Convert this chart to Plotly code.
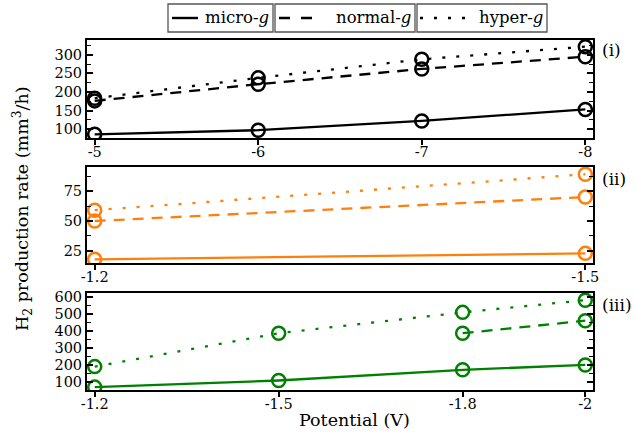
import plotly.graph_objects as go

# Panel (i)
pot_i = [-5, -6, -7, -8]
micro_i = [86, 97, 122, 153]
normal_i = [176, 221, 262, 295]
hyper_i = [183, 238, 288, 322]

# Panel (ii)
pot_ii = [-1.2, -1.5]
micro_ii = [18, 23]
normal_ii = [50, 70]
hyper_ii = [59, 89]

# Panel (iii)
pot_iii = [-1.2, -1.5, -1.8, -2.0]
micro_iii = [67, 106, 169, 198]
normal_iii = [None, None, 385, 459]
hyper_iii = [188, 385, 508, 580]

series_names = ["micro-g", "normal-g", "hyper-g"]
dashes = ["solid", "11px,8px", "3px,11px"]
legend_dashes = ["solid", "11px,11px", "3px,11px"]
colors = ["#000000", "#ff7f0e", "#008000"]
panel_labels = ["(i)", "(ii)", "(iii)"]

FONT = "DejaVu Serif, Liberation Serif, serif"

panels = [
    (pot_i, [micro_i, normal_i, hyper_i]),
    (pot_ii, [micro_ii, normal_ii, hyper_ii]),
    (pot_iii, [micro_iii, normal_iii, hyper_iii]),
]

fig = go.Figure()
for p, (xs, ys_list) in enumerate(panels):
    ax = "" if p == 0 else str(p + 1)
    for s, ys in enumerate(ys_list):
        fig.add_trace(go.Scatter(
            x=xs, y=ys, mode="lines+markers",
            xaxis="x" + ax, yaxis="y" + ax,
            line=dict(color=colors[p], width=2.3, dash=dashes[s]),
            marker=dict(symbol="circle-open", size=13, color=colors[p],
                        line=dict(width=2.5, color=colors[p])),
            connectgaps=False, showlegend=False, name=series_names[s],
            hoverinfo="skip",
        ))

# geometry (paper coordinates)
ML, MR, MT, MB = 87, 43, 40, 44
domains = [(0.72, 1.0), (0.363, 0.637), (0.0, 0.277)]
xranges = [[-4.953, -8.047], [-1.1953, -1.5047], [-1.1874, -2.0126]]
xticks = [([-5, -6, -7, -8], ["-5", "-6", "-7", "-8"]),
          ([-1.2, -1.5], ["-1.2", "-1.5"]),
          ([-1.2, -1.5, -1.8, -2.0], ["-1.2", "-1.5", "-1.8", "-2"])]
yranges = [[76, 340], [15, 95], [50, 622]]
ydt = [(50, 25, 100), (25, 12.5, 25), (100, 50, 100)]

tickfont = dict(family=FONT, size=14.5, color="black")
layout = dict(
    width=636, height=434,
    margin=dict(l=ML, r=MR, t=MT, b=MB, autoexpand=False),
    plot_bgcolor="white", paper_bgcolor="white",
    font=dict(family=FONT, size=15, color="black"),
)
for p in range(3):
    ax = "" if p == 0 else str(p + 1)
    layout["xaxis" + ax] = dict(
        domain=[0, 1], anchor="y" + ax, range=xranges[p], automargin=False,
        tickvals=xticks[p][0], ticktext=xticks[p][1],
        ticks="outside", ticklen=5, tickwidth=1.5, tickcolor="black",
        ticklabelstandoff=-5,
        showline=True, linewidth=2, linecolor="black", mirror=True,
        showgrid=False, zeroline=False, tickfont=tickfont,
    )
    major, minor, start = ydt[p]
    layout["yaxis" + ax] = dict(
        domain=list(domains[p]), anchor="x" + ax, range=yranges[p], automargin=False,
        tick0=start, dtick=major,
        ticks="inside", ticklen=6, tickwidth=1.5, tickcolor="black",
        minor=dict(tick0=start, dtick=minor, ticks="inside", ticklen=4,
                   tickwidth=1.2, tickcolor="black"),
        showline=True, linewidth=2, linecolor="black", mirror="allticks",
        showgrid=False, zeroline=False, tickfont=tickfont,
    )
fig.update_layout(**layout)

# manual legend: three boxes
shapes = []
annotations = []
box_x = [(168, 273), (275, 415), (417, 547)]
line_x = [(172, 198), (279, 314), (420, 470)]
def px(x):
    return (x - ML) / (636 - ML - MR)
def py(y):
    return 1 - (y - MT) / (434 - MT - MB)
for i, (x0, x1) in enumerate(box_x):
    shapes.append(dict(type="rect", xref="paper", yref="paper",
                       x0=px(x0), x1=px(x1), y0=py(32), y1=py(4),
                       line=dict(color="#555", width=1.3), fillcolor="white"))
    shapes.append(dict(type="line", xref="paper", yref="paper",
                       x0=px(line_x[i][0]), x1=px(line_x[i][1]), y0=py(18), y1=py(18),
                       line=dict(color="black", width=2.4, dash=legend_dashes[i])))
    base = series_names[i][:-1]
    annotations.append(dict(xref="paper", yref="paper", x=px(x1 - 2), y=py(18),
                            xanchor="right", yanchor="middle", showarrow=False,
                            text=base + "<i>g</i>",
                            font=dict(family=FONT, size=16.5, color="black")))

label_y = [50, 179, 305]
for p in range(3):
    annotations.append(dict(xref="paper", yref="paper", x=px(600), y=py(label_y[p]),
                            xanchor="left", yanchor="middle", showarrow=False,
                            text=panel_labels[p],
                            font=dict(family=FONT, size=17, color="black")))

annotations.append(dict(xref="paper", yref="paper", x=px(354), y=py(420),
                        xanchor="center", yanchor="middle", showarrow=False,
                        text="Potential (V)",
                        font=dict(family=FONT, size=17.5, color="black")))
annotations.append(dict(xref="paper", yref="paper", x=px(22), y=py(209),
                        xanchor="center", yanchor="middle", showarrow=False,
                        textangle=-90,
                        text="H<sub>2</sub> production rate (mm<sup>3</sup>/h)",
                        font=dict(family=FONT, size=17.5, color="black")))
fig.update_layout(shapes=shapes, annotations=annotations)

fig.write_html("out.html", config={"displayModeBar": False},
               post_script="document.body.style.margin='0px';document.body.style.padding='0px';")
